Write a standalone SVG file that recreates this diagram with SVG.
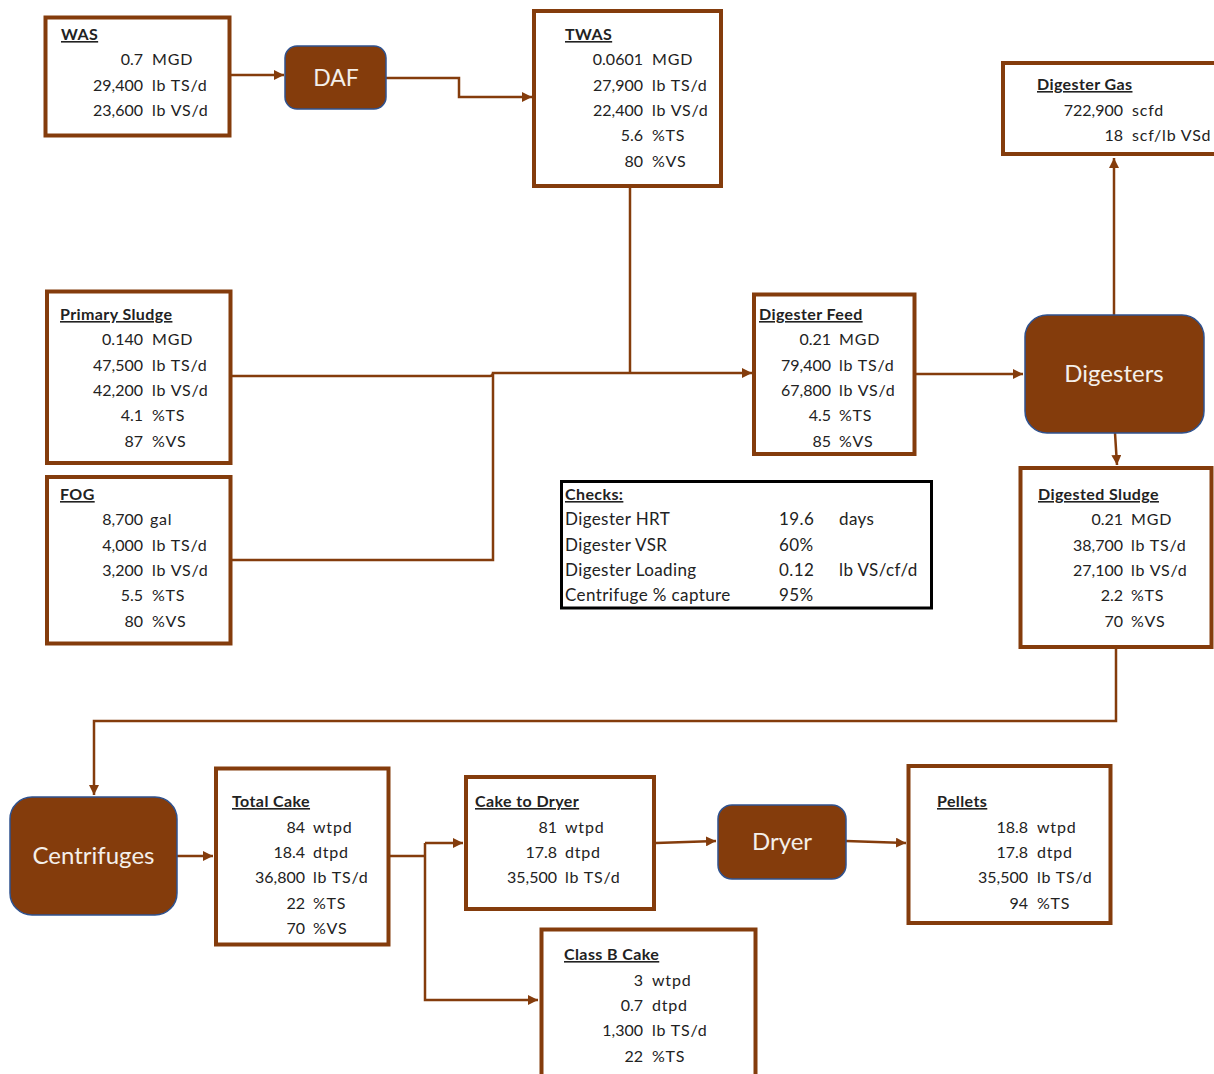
<svg xmlns="http://www.w3.org/2000/svg" width="1214" height="1074" viewBox="0 0 1214 1074">
  <style>
    text { font-family: Lato, "Open Sans", "Liberation Sans", sans-serif; font-size: 16px; fill: #222222; letter-spacing: 0.8px; }
    .box { fill: #ffffff; stroke: #843C0C; stroke-width: 4; }
    .proc { fill: #843C0C; stroke: #2F528F; stroke-width: 1.5; }
    .plabel { fill: #F4EFEA; font-size: 24px; text-anchor: middle; letter-spacing: 0; }
    .title { font-weight: bold; text-decoration: underline; letter-spacing: 0.4px; }
    .num { text-anchor: end; letter-spacing: 0; }
    .chk { font-size: 17px; letter-spacing: 0.4px; }
    .wire { fill: none; stroke: #843C0C; stroke-width: 2.5; }
    .checks { fill: #ffffff; stroke: #000000; stroke-width: 3; }
  </style>
  <defs>
    <marker id="arrow" viewBox="0 0 10 10" refX="10" refY="5" markerWidth="4" markerHeight="4" orient="auto" markerUnits="strokeWidth">
      <path d="M0,0 L10,5 L0,10 z" fill="#843C0C"/>
    </marker>
  </defs>
  <rect width="1214" height="1074" fill="#ffffff"/>

  <!-- flow lines -->
  <g id="connectors">
    <path class="wire" d="M231,75 H284" marker-end="url(#arrow)"/>
    <path class="wire" d="M386,78 H459 V97 H532" marker-end="url(#arrow)"/>
    <path class="wire" d="M630,188 V373"/>
    <path class="wire" d="M232,376 H490 Q493,376 493,373"/>
    <path class="wire" d="M232,560 H493 V373 H752" marker-end="url(#arrow)"/>
    <path class="wire" d="M916,374 H1023" marker-end="url(#arrow)"/>
    <path class="wire" d="M1114,315 V158" marker-end="url(#arrow)"/>
    <path class="wire" d="M1115,433 L1117,465" marker-end="url(#arrow)"/>
    <path class="wire" d="M1116,649 V721 H94 V795" marker-end="url(#arrow)"/>
    <path class="wire" d="M177,856 H213" marker-end="url(#arrow)"/>
    <path class="wire" d="M390,856 H425"/>
    <path class="wire" d="M425,843 H463" marker-end="url(#arrow)"/>
    <path class="wire" d="M425,843 V1000 H538" marker-end="url(#arrow)"/>
    <path class="wire" d="M656,843 L716,841" marker-end="url(#arrow)"/>
    <path class="wire" d="M846,841 L906,843" marker-end="url(#arrow)"/>
  </g>

  <g id="was">
    <rect class="box" x="45.5" y="17.5" width="184" height="118"/>
    <text class="title" x="61" y="40">WAS</text>
    <text class="num" x="143" y="65">0.7</text><text x="152" y="65">MGD</text>
    <text class="num" x="143" y="90.5">29,400</text><text x="152" y="90.5">lb TS/d</text>
    <text class="num" x="143" y="116">23,600</text><text x="152" y="116">lb VS/d</text>
  </g>

  <g id="daf">
    <rect class="proc" x="285" y="46" width="101" height="63" rx="12"/>
    <text class="plabel" x="336" y="86" style="font-size:23px">DAF</text>
  </g>

  <g id="twas">
    <rect class="box" x="534" y="11" width="187" height="175"/>
    <text class="title" x="565" y="40">TWAS</text>
    <text class="num" x="643" y="65">0.0601</text><text x="652" y="65">MGD</text>
    <text class="num" x="643" y="90.5">27,900</text><text x="652" y="90.5">lb TS/d</text>
    <text class="num" x="643" y="116">22,400</text><text x="652" y="116">lb VS/d</text>
    <text class="num" x="643" y="141">5.6</text><text x="652" y="141">%TS</text>
    <text class="num" x="643" y="166.5">80</text><text x="652" y="166.5">%VS</text>
  </g>

  <g id="digester-gas">
    <rect class="box" x="1003" y="63" width="220" height="91"/>
    <text class="title" x="1037" y="90">Digester Gas</text>
    <text class="num" x="1123" y="116">722,900</text><text x="1132" y="116">scfd</text>
    <text class="num" x="1123" y="141">18</text><text x="1132" y="141">scf/lb VSd</text>
  </g>

  <g id="primary-sludge">
    <rect class="box" x="47" y="291.5" width="183.5" height="171.5"/>
    <text class="title" x="60" y="320">Primary Sludge</text>
    <text class="num" x="143" y="345">0.140</text><text x="152" y="345">MGD</text>
    <text class="num" x="143" y="370.5">47,500</text><text x="152" y="370.5">lb TS/d</text>
    <text class="num" x="143" y="396">42,200</text><text x="152" y="396">lb VS/d</text>
    <text class="num" x="143" y="421">4.1</text><text x="152" y="421">%TS</text>
    <text class="num" x="143" y="447">87</text><text x="152" y="447">%VS</text>
  </g>

  <g id="fog">
    <rect class="box" x="47" y="477" width="183.5" height="166.5"/>
    <text class="title" x="60" y="500">FOG</text>
    <text class="num" x="143" y="525">8,700</text><text x="150" y="525">gal</text>
    <text class="num" x="143" y="550.5">4,000</text><text x="152" y="550.5">lb TS/d</text>
    <text class="num" x="143" y="576">3,200</text><text x="152" y="576">lb VS/d</text>
    <text class="num" x="143" y="601">5.5</text><text x="152" y="601">%TS</text>
    <text class="num" x="143" y="627">80</text><text x="152" y="627">%VS</text>
  </g>

  <g id="digester-feed">
    <rect class="box" x="754" y="294.5" width="160.5" height="159.5"/>
    <text class="title" x="759" y="320">Digester Feed</text>
    <text class="num" x="831" y="345">0.21</text><text x="839" y="345">MGD</text>
    <text class="num" x="831" y="370.5">79,400</text><text x="839" y="370.5">lb TS/d</text>
    <text class="num" x="831" y="396">67,800</text><text x="839" y="396">lb VS/d</text>
    <text class="num" x="831" y="421">4.5</text><text x="839" y="421">%TS</text>
    <text class="num" x="831" y="447">85</text><text x="839" y="447">%VS</text>
  </g>

  <g id="digesters">
    <rect class="proc" x="1025" y="315" width="179" height="118" rx="22"/>
    <text class="plabel" x="1114" y="382">Digesters</text>
  </g>

  <g id="checks">
    <rect class="checks" x="561.5" y="481.5" width="370" height="126.5"/>
    <text class="title" x="565" y="500">Checks:</text>
    <text class="chk" x="565" y="525">Digester HRT</text><text class="chk" x="779" y="525">19.6</text><text class="chk" x="839" y="525">days</text>
    <text class="chk" x="565" y="550.5">Digester VSR</text><text class="chk" x="779" y="550.5">60%</text>
    <text class="chk" x="565" y="576">Digester Loading</text><text class="chk" x="779" y="576">0.12</text><text class="chk" x="839" y="576">lb VS/cf/d</text>
    <text class="chk" x="565" y="601">Centrifuge % capture</text><text class="chk" x="779" y="601">95%</text>
  </g>

  <g id="digested-sludge">
    <rect class="box" x="1020.5" y="468" width="191" height="179"/>
    <text class="title" x="1038" y="500">Digested Sludge</text>
    <text class="num" x="1123" y="525">0.21</text><text x="1131" y="525">MGD</text>
    <text class="num" x="1123" y="550.5">38,700</text><text x="1131" y="550.5">lb TS/d</text>
    <text class="num" x="1123" y="576">27,100</text><text x="1131" y="576">lb VS/d</text>
    <text class="num" x="1123" y="601">2.2</text><text x="1131" y="601">%TS</text>
    <text class="num" x="1123" y="627">70</text><text x="1131" y="627">%VS</text>
  </g>

  <g id="centrifuges">
    <rect class="proc" x="10" y="797" width="167" height="118" rx="22"/>
    <text class="plabel" x="93.5" y="864">Centrifuges</text>
  </g>

  <g id="total-cake">
    <rect class="box" x="216" y="768.5" width="172.5" height="176"/>
    <text class="title" x="232" y="807">Total Cake</text>
    <text class="num" x="305" y="832.5">84</text><text x="313" y="832.5">wtpd</text>
    <text class="num" x="305" y="858">18.4</text><text x="313" y="858">dtpd</text>
    <text class="num" x="305" y="883">36,800</text><text x="313" y="883">lb TS/d</text>
    <text class="num" x="305" y="908.5">22</text><text x="313" y="908.5">%TS</text>
    <text class="num" x="305" y="934">70</text><text x="313" y="934">%VS</text>
  </g>

  <g id="cake-to-dryer">
    <rect class="box" x="466" y="777" width="188" height="132"/>
    <text class="title" x="475" y="807">Cake to Dryer</text>
    <text class="num" x="557" y="832.5">81</text><text x="565" y="832.5">wtpd</text>
    <text class="num" x="557" y="858">17.8</text><text x="565" y="858">dtpd</text>
    <text class="num" x="557" y="883">35,500</text><text x="565" y="883">lb TS/d</text>
  </g>

  <g id="dryer">
    <rect class="proc" x="718" y="805" width="128" height="74" rx="14"/>
    <text class="plabel" x="782" y="850">Dryer</text>
  </g>

  <g id="pellets">
    <rect class="box" x="908.5" y="766" width="202" height="157"/>
    <text class="title" x="937" y="807">Pellets</text>
    <text class="num" x="1028" y="832.5">18.8</text><text x="1037" y="832.5">wtpd</text>
    <text class="num" x="1028" y="858">17.8</text><text x="1037" y="858">dtpd</text>
    <text class="num" x="1028" y="883">35,500</text><text x="1037" y="883">lb TS/d</text>
    <text class="num" x="1028" y="908.5">94</text><text x="1037" y="908.5">%TS</text>
  </g>

  <g id="class-b-cake">
    <rect class="box" x="541.5" y="929.5" width="214" height="160"/>
    <text class="title" x="564" y="960">Class B Cake</text>
    <text class="num" x="643" y="985.5">3</text><text x="652" y="985.5">wtpd</text>
    <text class="num" x="643" y="1011">0.7</text><text x="652" y="1011">dtpd</text>
    <text class="num" x="643" y="1036">1,300</text><text x="652" y="1036">lb TS/d</text>
    <text class="num" x="643" y="1061.5">22</text><text x="652" y="1061.5">%TS</text>
  </g>
</svg>
